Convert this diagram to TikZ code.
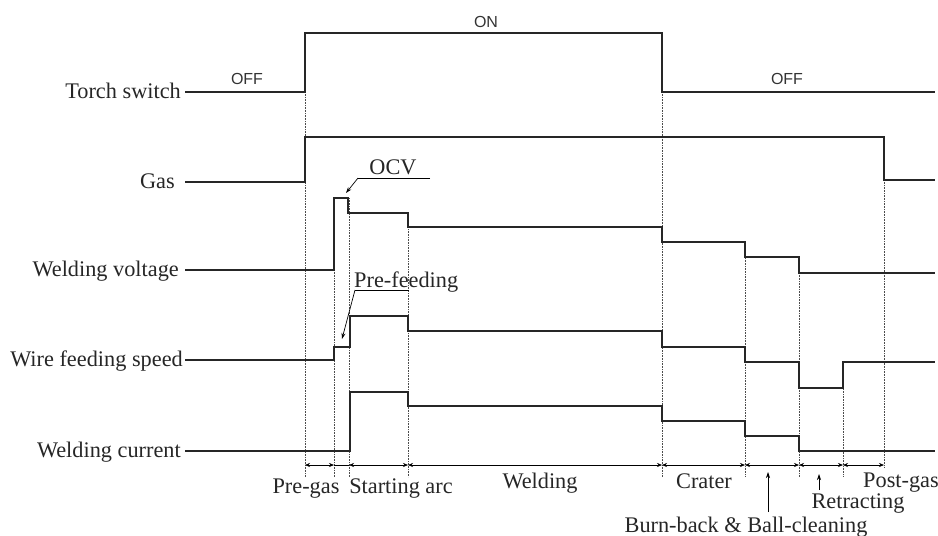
\documentclass[tikz,border=0pt]{standalone}
\usepackage{fontspec}
\setmainfont{Liberation Serif}
\newfontfamily\sansf{Liberation Sans}
\usetikzlibrary{arrows.meta}
\begin{document}
\begin{tikzpicture}[x=1pt,y=-1pt,
  sig/.style={line width=1.6pt, line join=miter, black!85},
  torchsig/.style={sig, line width=2.2pt},
  guide/.style={line width=0.6pt, densely dotted, black!70},
  lbl/.style={font=\fontsize{22.3}{25}\selectfont, inner sep=0pt, text=black!85},
  st/.style={font=\sansf\fontsize{16}{18}\selectfont, inner sep=0pt, text=black!80},
  tipup/.style={-{Stealth[length=6pt,width=4pt]}, line width=0.7pt},
  dimarr/.style={{Stealth[length=5pt,width=4pt]}-{Stealth[length=5pt,width=4pt]}, line width=0.6pt}]
\useasboundingbox (0,0) rectangle (938,536);

% guide lines
\foreach \gx/\gy/\ge in {305/33/477, 334/198/477, 349/198/477, 408/213/477, 662/33/477, 745/242/477, 799/257/477, 843/362/477, 884/137/468}
  \draw[guide] (\gx,\gy) -- (\gx,\ge);

% signal labels
\node[lbl, anchor=base east] (lts) at (181,98) {Torch switch};
\node[lbl, anchor=base east] (lgas) at (175,188) {Gas};
\node[lbl, anchor=base east] (lwv) at (179,276) {Welding voltage};
\node[lbl, anchor=base east] (lwf) at (183,366) {Wire feeding speed};
\node[lbl, anchor=base east] (lwc) at (181,457) {Welding current};

% torch switch
\draw[torchsig] (185,92) -- (305,92) -- (305,33) -- (662,33) -- (662,92) -- (935,92);
% gas
\draw[sig] (185,182) -- (305,182) -- (305,137) -- (884,137) -- (884,180) -- (935,180);
% welding voltage
\draw[sig] (185,270) -- (334,270) -- (334,198) -- (348,198) -- (348,213) -- (408,213) -- (408,227) -- (662,227) -- (662,242) -- (745,242) -- (745,257) -- (799,257) -- (799,273) -- (935,273);
% wire feeding speed
\draw[sig] (185,360) -- (334,360) -- (334,347) -- (350,347) -- (350,316) -- (408,316) -- (408,331) -- (662,331) -- (662,347) -- (745,347) -- (745,362) -- (799,362) -- (799,388) -- (843,388) -- (843,362) -- (935,362);
% welding current
\draw[sig] (185,451) -- (350,451) -- (350,392) -- (408,392) -- (408,406) -- (662,406) -- (662,421) -- (745,421) -- (745,436) -- (799,436) -- (799,451) -- (935,451);

% ON / OFF
\node[st, anchor=base] (on) at (486,27) {ON};
\node[st, anchor=base] (off1) at (247,84) {OFF};
\node[st, anchor=base] (off2) at (787,84) {OFF};

% OCV annotation
\node[lbl, anchor=base] (ocv) at (393,174) {OCV};
\coordinate (ocvR) at (430,178);
\coordinate (ocvL) at (358,178);
\coordinate (ocvP) at (346,193);
\draw[line width=0.7pt] (ocvR) -- (ocvL);
\draw[tipup] (ocvL) -- (ocvP);

% Pre-feeding annotation
\node[lbl, anchor=base west] (pf) at (354,287) {Pre-feeding};
\coordinate (pfR) at (409,290);
\coordinate (pfL) at (355,290);
\coordinate (pfP) at (342,339);
\draw[line width=0.7pt] (pfR) -- (pfL);
\draw[tipup] (pfL) -- (pfP);

% dimension line
\draw[line width=0.6pt] (334,465) -- (349,465);
\foreach \a/\b in {305/334, 349/408, 408/662, 662/745, 745/799, 799/843, 843/884}
  \draw[dimarr] (\a,465) -- (\b,465);

% phase labels
\node[lbl, anchor=base] (pregas) at (306,493) {Pre-gas};
\node[lbl, anchor=base] (start) at (401,493) {Starting arc};
\node[lbl, anchor=base] (weld) at (540,488) {Welding};
\node[lbl, anchor=base] (crater) at (704,488) {Crater};
\node[lbl, anchor=base west] (postgas) at (863,487) {Post-gas};
\node[lbl, anchor=base] (retr) at (858,508) {Retracting};
\node[lbl, anchor=base] (burn) at (746,532) {Burn-back \& Ball-cleaning};

\coordinate (burnTop) at (768,472);
\coordinate (retrTop) at (819,474);
\draw[tipup] (768,512) -- (burnTop);
\draw[tipup] (819,490) -- (retrTop);
\end{tikzpicture}
\end{document}
